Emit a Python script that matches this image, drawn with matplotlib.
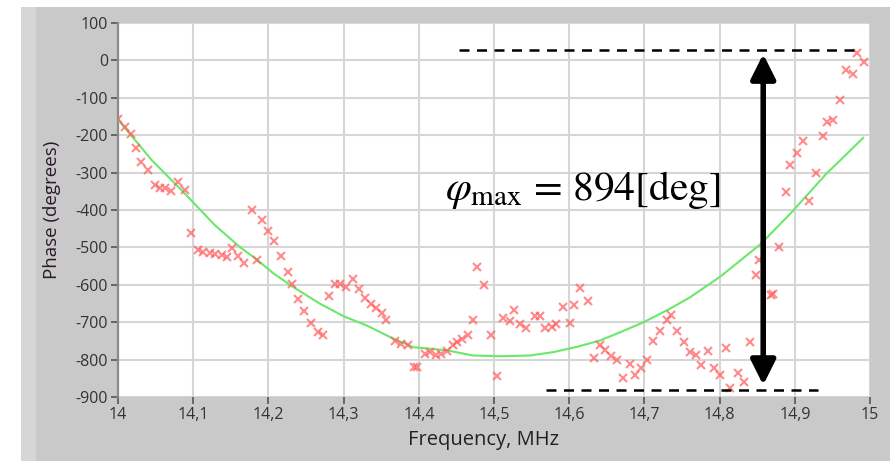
import matplotlib
matplotlib.use("Agg")
import matplotlib.pyplot as plt
from matplotlib.ticker import FixedLocator, FuncFormatter

# ---- data ----
freq = [14.000, 14.009, 14.017, 14.024, 14.031, 14.040, 14.049, 14.056, 14.0625, 14.070,
        14.080, 14.089, 14.097, 14.106, 14.113, 14.122, 14.129, 14.138, 14.145, 14.151,
        14.160, 14.167, 14.178, 14.185, 14.191, 14.200, 14.208, 14.217, 14.226, 14.232,
        14.240, 14.248, 14.256, 14.266, 14.272, 14.280, 14.289, 14.295, 14.303, 14.313,
        14.320, 14.328, 14.336, 14.343, 14.351, 14.357, 14.368, 14.376, 14.385, 14.393,
        14.398, 14.408, 14.415, 14.423, 14.429, 14.437, 14.445, 14.451, 14.457, 14.465,
        14.472, 14.478, 14.487, 14.496, 14.504, 14.512, 14.521, 14.527, 14.535, 14.542,
        14.555, 14.561, 14.568, 14.577, 14.583, 14.592, 14.601, 14.607, 14.615, 14.625,
        14.633, 14.641, 14.648, 14.655, 14.664, 14.672, 14.681, 14.688, 14.695, 14.704,
        14.712, 14.721, 14.730, 14.735, 14.744, 14.752, 14.761, 14.769, 14.775, 14.784,
        14.792, 14.801, 14.809, 14.814, 14.824, 14.832, 14.840, 14.848, 14.853, 14.868,
        14.871, 14.879, 14.888, 14.894, 14.903, 14.911, 14.919, 14.928, 14.937, 14.943,
        14.951, 14.960, 14.968, 14.977, 14.983, 14.992]
phase = [-158, -178, -198, -233, -272, -293, -334, -340, -342, -348,
         -324, -346, -461, -508, -512, -515, -517, -521, -527, -501,
         -524, -542, -401, -533, -428, -456, -483, -524, -566, -597,
         -637, -671, -702, -726, -733, -631, -599, -599, -606, -584,
         -611, -635, -651, -661, -676, -695, -749, -757, -762, -820,
         -820, -786, -780, -787, -786, -778, -762, -753, -744, -733,
         -693, -553, -600, -735, -845, -689, -697, -668, -706, -715,
         -684, -684, -715, -713, -706, -660, -702, -653, -608, -642,
         -795, -762, -775, -791, -802, -849, -813, -840, -822, -800,
         -751, -724, -693, -680, -724, -753, -780, -789, -815, -777,
         -822, -840, -769, -875, -836, -860, -753, -575, -535, -626,
         -624, -499, -352, -279, -247, -216, -376, -301, -203, -165,
         -159, -107, -27, -37, 20, -5]

fit_freq = [14.000, 14.045, 14.085, 14.129, 14.162, 14.185, 14.207, 14.233, 14.269, 14.300,
            14.331, 14.348, 14.362, 14.393, 14.437, 14.472, 14.510, 14.548, 14.579, 14.610,
            14.641, 14.670, 14.699, 14.734, 14.761, 14.801, 14.854, 14.894, 14.942, 14.991]
fit_phase = [-158, -267, -348, -441, -499, -533, -570, -606, -651, -684,
             -709, -726, -740, -767, -775, -789, -791, -789, -780, -766,
             -749, -725, -700, -664, -633, -578, -492, -410, -303, -207]

x_ticks = [14.0, 14.1, 14.2, 14.3, 14.4, 14.5, 14.6, 14.7, 14.8, 14.9, 15.0]
x_labels = ["14", "14,1", "14,2", "14,3", "14,4", "14,5", "14,6", "14,7", "14,8", "14,9", "15"]
y_ticks = [100, 0, -100, -200, -300, -400, -500, -600, -700, -800, -900]

top_level = 29
bottom_level = -880
arrow_freq = 14.858
annot_text = r"$\varphi_{\mathrm{max}}$ = 894[deg]"

# ---- figure ----
W, H = 890, 461
fig = plt.figure(figsize=(W / 100, H / 100), dpi=100, facecolor="white")

# grey panel background
bg = fig.add_axes([21 / W, 0, 1 - 21 / W, 1 - 7 / H])
bg.set_axis_off()
bg.add_patch(plt.Rectangle((0, 0), 1, 1, transform=bg.transAxes, color="#c9c9c9", zorder=0))
bg.add_patch(plt.Rectangle((0, 0), 14 / (W - 21), 1, transform=bg.transAxes, color="#d6d6d6", zorder=1))

ax = fig.add_axes([118 / W, 1 - 397 / H, (870 - 118) / W, (397 - 23) / H])
ax.set_facecolor("white")
ax.set_xlim(14, 15)
ax.set_ylim(-900, 100)

ax.xaxis.set_major_locator(FixedLocator(x_ticks))
ax.set_xticklabels(x_labels)
ax.yaxis.set_major_locator(FixedLocator(y_ticks))
ax.yaxis.set_major_formatter(FuncFormatter(lambda v, p: f"{int(v)}"))

ax.grid(True, color="#d6d6d6", linewidth=1.5, zorder=0)
ax.set_axisbelow(True)

for s in ["top", "right", "bottom"]:
    ax.spines[s].set_visible(False)
ax.spines["left"].set_color("#8a8a8a")
ax.spines["left"].set_linewidth(1.6)

ax.tick_params(axis="both", direction="out", length=5, width=1.2, color="#555555",
               labelsize=11.5, labelcolor="#333333", pad=2)

font = "Open Sans"
for lab in ax.get_xticklabels() + ax.get_yticklabels():
    lab.set_fontfamily(font)

ax.set_xlabel("Frequency, MHz", fontsize=14.5, family=font, color="#222222")
ax.set_ylabel("Phase (degrees)", fontsize=13.5, family=font, color="#2a1a2a")
ax.xaxis.set_label_coords((483 - 118) / 752, (397 - 440) / 374)
ax.xaxis.label.set_va("center")
ax.yaxis.set_label_coords((52 - 118) / 752, (397 - 210) / 374)
ax.yaxis.label.set_va("center")

ax.plot(fit_freq, fit_phase, color="#6ae86a", linewidth=1.5, zorder=3)
ax.plot(freq, phase, linestyle="none", marker="x", markersize=6, markeredgewidth=1.5,
        color="#ff5a5a", alpha=0.7, zorder=4)

# annotations
ax.plot([14.453, 14.986], [top_level, top_level], color="black", linestyle=(0, (4, 3)),
        linewidth=1.8, zorder=5, clip_on=False)
ax.plot([14.569, 14.931], [bottom_level, bottom_level], color="black", linestyle=(0, (4, 3)),
        linewidth=1.8, zorder=5, clip_on=False)
ax.annotate("", xy=(arrow_freq, top_level - 12), xytext=(arrow_freq, bottom_level + 12),
            arrowprops=dict(arrowstyle="<|-|>,head_length=1.5,head_width=0.75",
                            color="black", linewidth=4, shrinkA=0, shrinkB=0),
            zorder=6)

plt.rcParams["mathtext.fontset"] = "stix"
ax.text(14.435, -374, annot_text, fontsize=30, family="STIXGeneral", color="black",
        va="baseline", ha="left", zorder=6)

fig.savefig("out.png", dpi=100, facecolor="white")
